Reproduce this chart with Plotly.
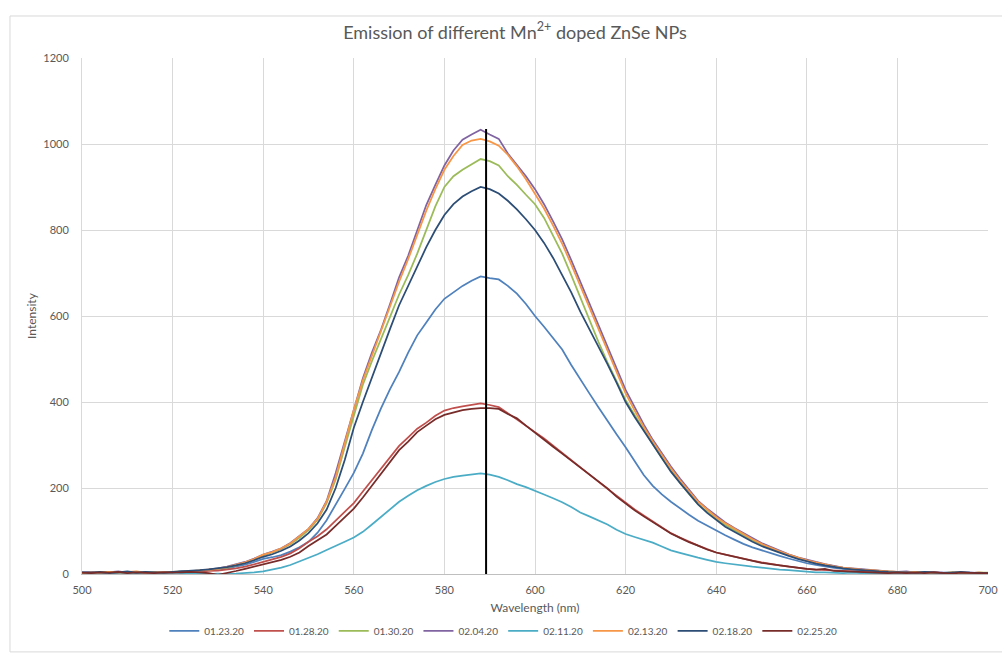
import plotly.graph_objects as go

# Wavelength grid (nm), 2 nm steps from 500 to 700
wavelength = list(range(500, 701, 2))

s_012320 = [3, 4, 2, 5, 3, 4, 5, 2, 4, 3,
            4, 5, 6, 7, 8, 10, 13, 17, 22, 28,
            35, 39, 44, 52, 62, 75, 96, 125, 160, 198,
            235, 280, 335, 385, 430, 470, 515, 555, 585, 615,
            640, 655, 670, 682, 692, 688, 685, 670, 652, 628,
            600, 575, 548, 522, 486, 452, 420, 388, 355, 325,
            295, 262, 230, 205, 185, 168, 152, 138, 124, 112,
            100, 90, 80, 70, 62, 55, 48, 42, 36, 30,
            25, 21, 17, 14, 12, 10, 8, 7, 6, 5,
            4, 5, 3, 4, 2, 3, 4, 2, 3, 2,
            2]

s_012820 = [2, 4, 3, 5, 2, 3, 4, 2, 5, 3,
            4, 5, 4, 6, 7, 8, 10, 13, 17, 22,
            28, 34, 40, 48, 60, 75, 88, 104, 124, 145,
            165, 192, 218, 246, 272, 298, 318, 338, 352, 368,
            380, 386, 390, 394, 397, 393, 388, 374, 360, 346,
            330, 315, 298, 282, 265, 248, 232, 215, 198, 182,
            165, 150, 136, 122, 108, 95, 85, 75, 66, 58,
            50, 45, 40, 35, 31, 27, 23, 20, 17, 14,
            12, 10, 9, 7, 6, 5, 4, 4, 3, 3,
            3, 2, 4, 2, 3, 2, 3, 1, 2, 3,
            2]

s_013020 = [3, 2, 4, 5, 3, 4, 2, 5, 4, 3,
            5, 6, 6, 8, 10, 12, 15, 20, 26, 34,
            43, 50, 58, 69, 84, 102, 126, 165, 220, 295,
            370, 440, 495, 545, 598, 650, 695, 745, 800, 855,
            900, 925, 940, 952, 965, 960, 950, 925, 905, 882,
            860, 828, 788, 745, 695, 642, 592, 540, 492, 448,
            405, 370, 335, 302, 270, 240, 212, 186, 162, 145,
            128, 114, 101, 90, 78, 68, 59, 51, 44, 37,
            31, 26, 22, 18, 14, 12, 10, 8, 7, 6,
            5, 3, 4, 5, 3, 2, 4, 3, 2, 3,
            3]

s_020420 = [3, 5, 2, 4, 6, 3, 5, 4, 2, 5,
            4, 6, 6, 8, 10, 13, 17, 22, 28, 36,
            45, 52, 60, 72, 88, 105, 130, 170, 235, 310,
            385, 455, 515, 568, 628, 690, 740, 800, 858, 905,
            950, 985, 1010, 1022, 1033, 1022, 1012, 978, 952, 925,
            895, 860, 820, 778, 730, 680, 632, 580, 528, 478,
            428, 388, 348, 312, 280, 250, 222, 195, 170, 152,
            135, 120, 107, 95, 83, 72, 63, 54, 46, 39,
            33, 28, 23, 19, 15, 13, 11, 9, 7, 6,
            5, 6, 3, 4, 5, 3, 2, 4, 3, 2,
            2]

s_021120 = [2, 3, 1, 4, 2, 3, 2, 4, 3, 2,
            3, 2, 1, 2, 0, 1, 0, 1, 2, 4,
            6, 10, 15, 21, 29, 38, 46, 56, 65, 75,
            85, 98, 115, 132, 150, 168, 182, 195, 205, 214,
            221, 226, 229, 232, 234, 231, 226, 218, 209, 202,
            194, 185, 176, 167, 156, 143, 134, 125, 115, 103,
            93, 86, 80, 73, 64, 55, 49, 43, 38, 33,
            28, 25, 22, 19, 17, 15, 12, 10, 9, 7,
            5, 4, 4, 3, 2, 3, 2, 1, 2, 2,
            1, 2, 1, 2, 1, 2, 1, 2, 1, 1,
            1]

s_021320 = [2, 4, 3, 5, 3, 4, 6, 3, 4, 5,
            5, 5, 7, 8, 10, 12, 16, 21, 27, 35,
            45, 51, 60, 71, 87, 105, 128, 168, 225, 305,
            382, 450, 508, 562, 620, 680, 732, 790, 845, 895,
            940, 972, 998, 1008, 1012, 1006, 996, 975, 948, 918,
            885, 850, 810, 768, 720, 670, 620, 570, 518, 468,
            420, 380, 342, 308, 276, 246, 218, 192, 168, 150,
            132, 118, 105, 93, 81, 70, 61, 53, 45, 38,
            32, 27, 22, 18, 15, 12, 10, 9, 7, 6,
            5, 4, 5, 3, 4, 2, 3, 4, 2, 3,
            2]

s_021820 = [4, 3, 5, 2, 4, 6, 3, 5, 4, 3,
            5, 6, 7, 9, 11, 13, 16, 20, 25, 32,
            40, 46, 54, 64, 78, 95, 118, 150, 200, 265,
            340, 400, 458, 515, 570, 625, 670, 715, 760, 800,
            835, 860, 878, 890, 900, 895, 885, 868, 848, 825,
            800, 770, 735, 695, 655, 610, 570, 530, 488, 445,
            400, 365, 333, 303, 270, 238, 212, 188, 162, 142,
            125, 110, 98, 86, 75, 65, 57, 49, 42, 35,
            29, 24, 20, 16, 13, 11, 9, 8, 6, 5,
            5, 4, 3, 5, 4, 2, 3, 5, 3, 2,
            2]

s_022520 = [3, 2, 4, 3, 5, 2, 4, 3, 2, 4,
            3, 4, 5, 4, 2, -2, 2, 7, 12, 17,
            22, 27, 33, 40, 50, 65, 78, 92, 112, 132,
            152, 178, 205, 232, 260, 288, 308, 330, 345, 360,
            370, 376, 381, 384, 386, 386, 384, 372, 362, 345,
            328, 312, 296, 280, 264, 246, 230, 214, 199, 180,
            163, 148, 134, 120, 106, 94, 84, 74, 66, 57,
            50, 45, 40, 36, 31, 26, 23, 20, 17, 14,
            12, 10, 12, 7, 6, 5, 4, 3, 3, 2,
            3, 2, 3, 2, 4, 2, 1, 3, 2, 2,
            2]

series_names = ["01.23.20", "01.28.20", "01.30.20", "02.04.20",
                "02.11.20", "02.13.20", "02.18.20", "02.25.20"]
series_values = [s_012320, s_012820, s_013020, s_020420,
                 s_021120, s_021320, s_021820, s_022520]
series_colors = ["#4F81BD", "#C0504D", "#9BBB59", "#8064A2",
                 "#4BACC6", "#F79646", "#2C4D75", "#772C2A"]

# Peak marker line
peak_wavelength = 589.2
peak_line_y = [0, 1035]

x_ticks = list(range(500, 701, 20))
y_ticks = list(range(0, 1201, 200))

FONT = "Lato, 'Open Sans', sans-serif"
TXT = "#595959"

fig = go.Figure()
for name, vals, col in zip(series_names, series_values, series_colors):
    fig.add_trace(go.Scatter(x=wavelength, y=vals, mode="lines", name=name,
                             line=dict(color=col, width=1.75)))

fig.add_trace(go.Scatter(x=[peak_wavelength, peak_wavelength], y=peak_line_y,
                         mode="lines", line=dict(color="#000000", width=2),
                         showlegend=False, hoverinfo="skip"))

# Light chart-area border
fig.add_shape(type="rect", xref="paper", yref="paper",
              x0=-0.0795, x1=1.05, y0=-0.151, y1=1.0814,
              line=dict(color="#D9D9D9", width=1), layer="below")

fig.update_layout(
    width=1002, height=659,
    margin=dict(l=82, r=14, t=58, b=85, autoexpand=False),
    paper_bgcolor="white", plot_bgcolor="white",
    font=dict(family=FONT, color=TXT, size=11),
    title=dict(text="Emission of different Mn<sup>2+</sup> doped ZnSe NPs",
               x=0.514, xref="container", xanchor="center",
               y=0.951, yref="container", yanchor="middle",
               font=dict(family=FONT, size=18, color=TXT)),
    legend=dict(orientation="h", x=0.465, xanchor="center",
                y=-0.11, yanchor="middle",
                font=dict(family=FONT, size=10, color=TXT),
                bgcolor="rgba(0,0,0,0)", itemwidth=30, tracegroupgap=0),
    showlegend=True,
)

fig.update_xaxes(range=[500, 700], tickvals=x_ticks, showgrid=True,
                 gridcolor="#D9D9D9", gridwidth=1, showline=True,
                 linecolor="#BFBFBF", linewidth=1, zeroline=False,
                 ticks="", ticklabelstandoff=6, automargin=False,
                 tickfont=dict(family=FONT, size=11, color=TXT),
                 title=dict(text="Wavelength (nm)", standoff=8,
                            font=dict(family=FONT, size=12, color=TXT)))
fig.update_yaxes(range=[0, 1200], tickvals=y_ticks, showgrid=True,
                 gridcolor="#D9D9D9", gridwidth=1, showline=True,
                 linecolor="#D9D9D9", linewidth=1, zeroline=False,
                 ticks="", ticklabelstandoff=10, automargin=False,
                 tickfont=dict(family=FONT, size=11, color=TXT),
                 title=dict(text="Intensity", standoff=4,
                            font=dict(family=FONT, size=12, color=TXT)))

fig.write_html("out.html")
